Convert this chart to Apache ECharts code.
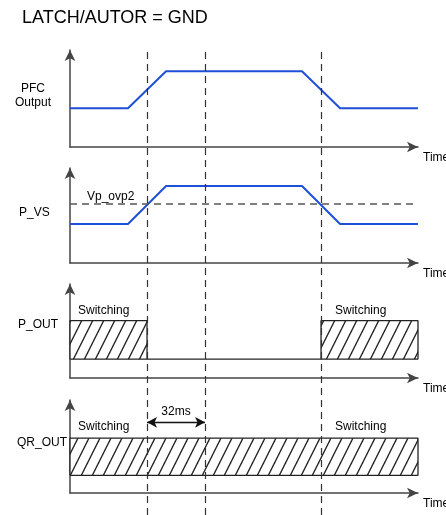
<!DOCTYPE html>
<html>
<head>
<meta charset="utf-8">
<script src="https://cdn.jsdelivr.net/npm/echarts@6/dist/echarts.min.js"></script>
<style>
html, body { margin: 0; padding: 0; background: #fff; }
#main { width: 446px; height: 515px; }
</style>
</head>
<body>
<div id="main"></div>
<script>
// time in ms along every panel
var tMax = 192;
var guideTimes = [42.5, 74.5, 138.5];   // dashed vertical guides
// PFC Output
var pfcTime = [0, 32, 53, 128, 149, 192];
var pfcLevel = [40, 40, 78, 78, 40, 40];
// P_VS
var vsTime = [0, 32, 53, 128, 149, 192];
var vsLevel = [41, 41, 81, 81, 41, 41];
var ovpLevel = 62;
// P_OUT switching blocks
var pOutLow = 20, pOutHigh = 61;
var pOutBlocks = [[0, 42.5], [138.5, 192]];
// QR_OUT switching block
var qrLow = 19, qrHigh = 59;
var qrBlock = [0, 192];
// 32ms annotation
var delayStart = 42.5, delayEnd = 74.5, delayLevel = 76;

function zip(xs, ys) {
    return xs.map(function (x, i) { return [x, ys[i]]; });
}

// hatch pattern (///)
function hatch() {
    var w = 11, h = 22;
    var c = document.createElement('canvas');
    c.width = w; c.height = h;
    var ctx = c.getContext('2d');
    ctx.fillStyle = '#fff';
    ctx.fillRect(0, 0, w, h);
    ctx.strokeStyle = '#222';
    ctx.lineWidth = 1.3;
    [-w, 0, w].forEach(function (dx) {
        ctx.beginPath();
        ctx.moveTo(dx - 1, h + 2);
        ctx.lineTo(dx + w + 1, -2);
        ctx.stroke();
    });
    return { image: c, repeat: 'repeat' };
}
var pattern = hatch();

var panels = [
    { top: 50, height: 97 },
    { top: 168, height: 95 },
    { top: 284, height: 94 },
    { top: 400, height: 93 }
];

var grids = panels.map(function (p) {
    return { left: 70, width: 348, top: p.top, height: p.height, outerBoundsMode: 'none', containLabel: false };
});
grids.push({ left: 70, width: 348, top: 50, bottom: 0, outerBoundsMode: 'none', containLabel: false }); // overlay for guides

var axisLine = {
    show: true,
    symbol: ['none', 'arrow'],
    symbolSize: [8, 11],
    lineStyle: { color: '#444', width: 1.5 }
};

var xAxes = panels.map(function (p, i) {
    return {
        type: 'value', gridIndex: i, min: 0, max: tMax,
        name: 'Time', nameLocation: 'end', nameGap: 5,
        nameTextStyle: { color: '#000', fontSize: 12, fontFamily: 'Liberation Sans', verticalAlign: 'top', padding: [5, 0, 0, 0] },
        axisLine: axisLine, axisTick: { show: false }, axisLabel: { show: false }, splitLine: { show: false }
    };
});
xAxes.push({ type: 'value', gridIndex: 4, min: 0, max: tMax, show: false });

var yAxes = panels.map(function (p, i) {
    return {
        type: 'value', gridIndex: i, min: 0, max: 100,
        axisLine: axisLine, axisTick: { show: false }, axisLabel: { show: false }, splitLine: { show: false }
    };
});
yAxes.push({ type: 'value', gridIndex: 4, min: 0, max: 1, show: false });

var blue = { color: '#1f4fd6', width: 2 };
var edge = { color: '#222', width: 1.3 };

var series = [
    { type: 'line', xAxisIndex: 0, yAxisIndex: 0, data: zip(pfcTime, pfcLevel), symbol: 'none', lineStyle: blue },
    {
        type: 'line', xAxisIndex: 1, yAxisIndex: 1, data: zip(vsTime, vsLevel), symbol: 'none', lineStyle: blue,
        markLine: {
            silent: true, symbol: 'none', label: { show: false },
            lineStyle: { color: '#555', type: [7, 5], width: 1.5 },
            data: [{ yAxis: ovpLevel }]
        }
    },
    // P_OUT baseline
    { type: 'line', xAxisIndex: 2, yAxisIndex: 2, data: [[0, pOutLow], [tMax, pOutLow]], symbol: 'none', lineStyle: edge }
];
pOutBlocks.forEach(function (b) {
    series.push({
        type: 'line', xAxisIndex: 2, yAxisIndex: 2, symbol: 'none', lineStyle: edge,
        areaStyle: { color: pattern, opacity: 1, origin: pOutLow },
        data: [[b[0], pOutLow], [b[0], pOutHigh], [b[1], pOutHigh], [b[1], pOutLow]]
    });
});
series.push({
    type: 'line', xAxisIndex: 3, yAxisIndex: 3, symbol: 'none', lineStyle: edge,
    areaStyle: { color: pattern, opacity: 1, origin: qrLow },
    data: [[qrBlock[0], qrLow], [qrBlock[0], qrHigh], [qrBlock[1], qrHigh], [qrBlock[1], qrLow], [qrBlock[0], qrLow]],
    markLine: {
        silent: true, symbol: ['arrow', 'arrow'], symbolSize: [8, 10],
        lineStyle: { color: '#111', type: 'solid', width: 1.3 },
        label: { show: true, position: 'middle', formatter: '32ms', color: '#000', fontSize: 12, fontFamily: 'Liberation Sans' },
        data: [[{ coord: [delayStart, delayLevel] }, { coord: [delayEnd, delayLevel] }]]
    }
});
// dashed guides over all panels
series.push({
    type: 'line', xAxisIndex: 4, yAxisIndex: 4, data: [], symbol: 'none',
    markLine: {
        silent: true, symbol: 'none', label: { show: false },
        lineStyle: { color: '#333', type: [7, 5], width: 1.2 },
        data: guideTimes.map(function (t) { return { xAxis: t }; })
    }
});

var font12 = '12px "Liberation Sans", Arial, sans-serif';
function txt(x, y, s, align) {
    return {
        type: 'text', x: x, y: y,
        style: { text: s, fill: '#000', font: font12, align: align || 'left', verticalAlign: 'middle', lineHeight: 14 }
    };
}

var chart = echarts.init(document.getElementById('main'));
chart.setOption({
    backgroundColor: '#fff',
    animation: false,
    grid: grids,
    xAxis: xAxes,
    yAxis: yAxes,
    series: series,
    graphic: [
        { type: 'text', x: 22, y: 18, style: { text: 'LATCH/AUTOR = GND', fill: '#000', font: '18px "Liberation Sans", Arial, sans-serif', verticalAlign: 'middle' } },
        txt(33, 96, 'PFC\nOutput', 'center'),
        txt(19, 213, 'P_VS'),
        txt(18, 325, 'P_OUT'),
        txt(17, 443, 'QR_OUT'),
        txt(87, 197, 'Vp_ovp2'),
        txt(78, 311, 'Switching'),
        txt(335, 311, 'Switching'),
        txt(78, 427, 'Switching'),
        txt(335, 427, 'Switching')
    ]
});
</script>
</body>
</html>
